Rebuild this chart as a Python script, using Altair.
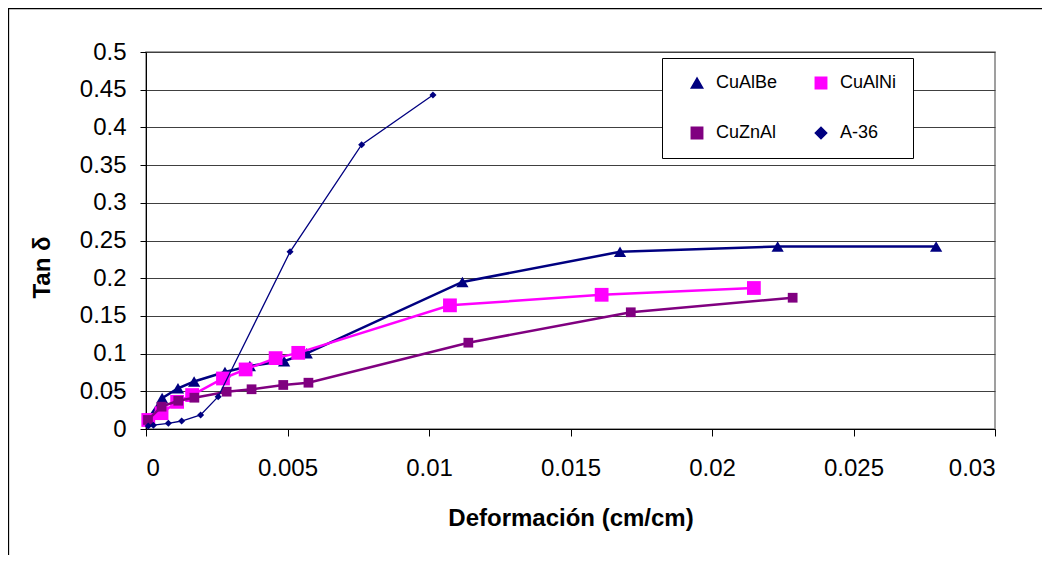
import altair as alt
import pandas as pd

series_names = ["CuAlBe", "CuAlNi", "CuZnAl", "A-36"]
series_colors = ["#000080", "#FF00FF", "#800080", "#000080"]
series_shapes = ["triangle-up", "square", "square", "diamond"]

cualbe_x = [0.00007, 0.00057, 0.00113, 0.0017, 0.00279, 0.00367, 0.00488, 0.00568, 0.01118, 0.01675, 0.02232, 0.02792]
cualbe_y = [0.013, 0.041, 0.054, 0.063, 0.0756, 0.0836, 0.090, 0.1004, 0.195, 0.235, 0.242, 0.242]

cualni_x = [0.00008, 0.00055, 0.0011, 0.00163, 0.00272, 0.00352, 0.00458, 0.00538, 0.01074, 0.0161, 0.02148]
cualni_y = [0.012, 0.021, 0.036, 0.045, 0.067, 0.079, 0.094, 0.101, 0.164, 0.178, 0.187]

cuznal_x = [0.00007, 0.00055, 0.00114, 0.00171, 0.00285, 0.00373, 0.00485, 0.00574, 0.01139, 0.01713, 0.02285]
cuznal_y = [0.012, 0.0296, 0.0375, 0.0415, 0.0495, 0.0527, 0.0584, 0.0614, 0.1145, 0.1548, 0.1741]

a36_x = [0.00008, 0.00026, 0.00079, 0.00126, 0.00193, 0.00255, 0.00509, 0.00762, 0.01014]
a36_y = [0.004, 0.005, 0.0076, 0.0106, 0.0186, 0.0428, 0.235, 0.377, 0.443]

x_ticks = [0, 0.005, 0.01, 0.015, 0.02, 0.025, 0.03]
y_ticks = [0, 0.05, 0.1, 0.15, 0.2, 0.25, 0.3, 0.35, 0.4, 0.45, 0.5]

FONT = "Liberation Sans"

series_data = {
    "CuAlBe": (cualbe_x, cualbe_y),
    "CuAlNi": (cualni_x, cualni_y),
    "CuZnAl": (cuznal_x, cuznal_y),
    "A-36": (a36_x, a36_y),
}
marker_size = {"CuAlBe": 150, "CuAlNi": 190, "CuZnAl": 95, "A-36": 50}
line_width = {"CuAlBe": 2.5, "CuAlNi": 2.5, "CuZnAl": 2.5, "A-36": 1.3}

color_scale = alt.Scale(domain=series_names, range=series_colors)
shape_scale = alt.Scale(domain=series_names, range=series_shapes)

legend = alt.Legend(
    title=None, orient="none", legendX=516, legendY=6, columns=2,
    direction="horizontal",
    labelFontSize=18, labelFont=FONT, labelColor="black",
    symbolSize=130, padding=16, rowPadding=32, columnPadding=24,
    symbolOffset=10, labelOffset=10, strokeColor="black", fillColor="white",
)

x_enc = alt.X(
    "x:Q",
    scale=alt.Scale(domain=[0, 0.03], nice=False),
    axis=alt.Axis(
        values=x_ticks, format="~g", grid=False, title="Deformación (cm/cm)",
        labelFontSize=24, labelFont=FONT, labelColor="black", labelPadding=20,
        tickSize=7, tickColor="black", domainColor="black",
        titleFontSize=24, titleFont=FONT, titleFontWeight="bold", titleColor="black",
        titleY=89, titleBaseline="middle",
    ),
)
y_enc = alt.Y(
    "y:Q",
    scale=alt.Scale(domain=[0, 0.5], nice=False),
    axis=alt.Axis(
        values=y_ticks, format="~g", grid=True, gridColor="#404040", gridWidth=1,
        title="Tan δ",
        labelFontSize=24, labelFont=FONT, labelColor="black", labelPadding=14,
        tickSize=6, tickColor="black", domainColor="black",
        titleFontSize=24, titleFont=FONT, titleFontWeight="bold", titleColor="black",
        titleAngle=-90, titleX=-104, titleY=215, titleAlign="center", titleBaseline="middle",
    ),
)

color_enc = alt.Color("Serie:N", scale=color_scale, legend=legend)
shape_enc = alt.Shape("Serie:N", scale=shape_scale, legend=legend)

layers = []
for name in series_names:
    xs, ys = series_data[name]
    df = pd.DataFrame({"x": xs, "y": ys, "Serie": [name] * len(xs)})
    base = alt.Chart(df)
    line = base.mark_line(strokeWidth=line_width[name]).encode(
        x=x_enc, y=y_enc, color=color_enc,
    )
    pts = base.mark_point(filled=True, opacity=1, size=marker_size[name]).encode(
        x=x_enc, y=y_enc, color=color_enc, shape=shape_enc,
    )
    layers.extend([line, pts])

frame = alt.Chart(pd.DataFrame({"a": [0]})).mark_rect(
    fillOpacity=0, stroke="black", strokeWidth=1.3
).encode(
    x=alt.value(-137.5), x2=alt.value(1100), y=alt.value(-43.5), y2=alt.value(800)
)

chart = alt.layer(frame, *layers).properties(
    width=849, height=377,
    padding={"left": 138, "top": 44, "right": 47, "bottom": 126},
    autosize="none",
    background="white",
).configure_view(stroke="#808080", strokeWidth=1.5)

chart.save("out.html", embed_options={"renderer": "svg", "actions": False})
